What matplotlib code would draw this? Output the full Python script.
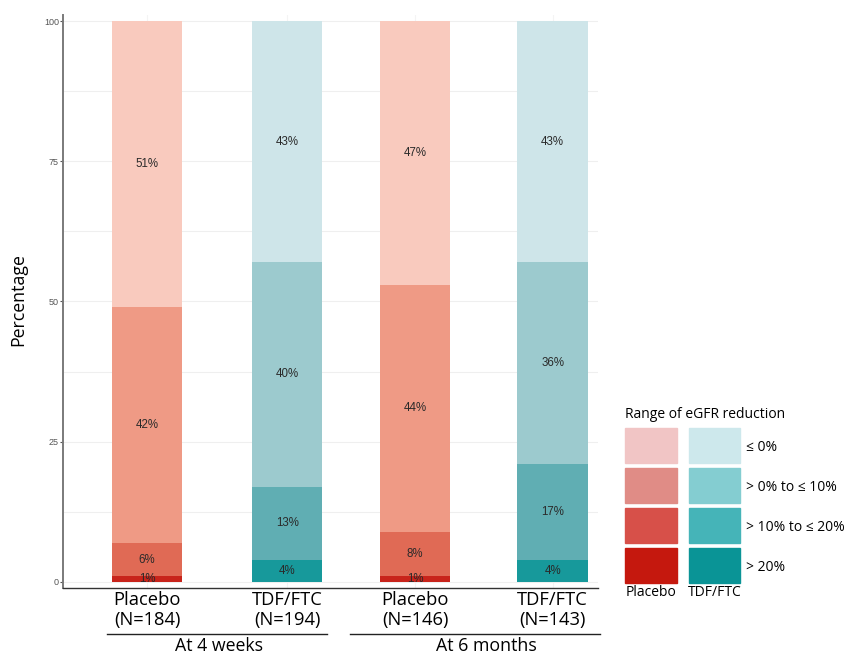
import numpy as np
import matplotlib.pyplot as plt
from matplotlib.patches import Rectangle
from matplotlib.lines import Line2D

groups = ['Placebo\n(N=184)', 'TDF/FTC\n(N=194)', 'Placebo\n(N=146)', 'TDF/FTC\n(N=143)']
arm = ['placebo', 'tdf', 'placebo', 'tdf']
timepoints = ['At 4 weeks', 'At 6 months']
ranges = ['> 20%', '> 10% to \u2264 20%', '> 0% to \u2264 10%', '\u2264 0%']
# stacked from bottom: >20, >10-20, >0-10, <=0
pct_gt20 = [1, 4, 1, 4]
pct_10_20 = [6, 13, 8, 17]
pct_0_10 = [42, 40, 44, 36]
pct_le0 = [51, 43, 47, 43]
tops = [100, 100, 100, 100]

bar_colors = {
    'placebo': ['#C8241B', '#E06A55', '#EF9A85', '#F9CABE'],
    'tdf': ['#17999B', '#60AEB3', '#9CCACE', '#CEE5E9'],
}
leg_colors = {
    'placebo': ['#C5180E', '#D75049', '#E08C86', '#F1C5C5'],
    'tdf': ['#0A9496', '#45B4B8', '#84CDD1', '#CDE8EC'],
}

W, H = 847, 657
fig = plt.figure(figsize=(W / 100, H / 100), dpi=100)
ax = fig.add_axes([63 / W, 1 - 588 / H, (598 - 63) / W, (588 - 15) / H])

x = np.array([0, 1.035, 1.98, 2.995])
width = 0.52
layers = [pct_gt20, pct_10_20, pct_0_10, pct_le0]
bottom = np.zeros(4)
for k, vals in enumerate(layers):
    vals = np.array(vals, dtype=float)
    # last layer fills to 100 (rounding)
    if k == 3:
        vals = np.array(tops) - bottom
    cols = [bar_colors[a][k] for a in arm]
    ax.bar(x, vals, width, bottom=bottom, color=cols, zorder=2)
    for i in range(4):
        ax.text(x[i], bottom[i] + vals[i] / 2, '%d%%' % layers[k][i],
                ha='center', va='center', fontsize=8.3, color='#2a2a2a',
                family='Liberation Sans', zorder=3)
    bottom = bottom + vals

ax.set_xlim(-0.62, 3.33)
ax.set_ylim(-1.07, 101.07)
ax.set_yticks([0, 25, 50, 75, 100])
ax.set_yticks([12.5, 37.5, 62.5, 87.5], minor=True)
ax.set_xticks(x)
ax.set_xticklabels([])
ax.tick_params(axis='y', labelsize=6.5, colors='#555555', length=2, width=0.8, pad=1)
ax.tick_params(axis='y', which='minor', length=0)
ax.tick_params(axis='x', length=0)
for lab in ax.get_yticklabels():
    lab.set_family('Liberation Sans')
ax.grid(True, which='both', axis='y', color='#efefef', lw=0.8, zorder=0)
ax.grid(True, axis='x', color='#f4f4f4', lw=0.8, zorder=0)
ax.set_axisbelow(True)
for s in ['top', 'right']:
    ax.spines[s].set_visible(False)
ax.spines['left'].set_color('#7a7a7a')
ax.spines['left'].set_linewidth(1.4)
ax.spines['bottom'].set_color('#333333')
ax.spines['bottom'].set_linewidth(1.0)

fig.text(18 / W, 1 - 300 / H, 'Percentage', rotation=90, ha='center', va='center',
         fontsize=12.8, family='Open Sans')

# category labels and timepoint brackets
ov = fig.add_axes([0, 0, 1, 1], facecolor='none')
ov.set_xlim(0, W)
ov.set_ylim(H, 0)
ov.axis('off')

disp = ax.transData
for i, g in enumerate(groups):
    px = disp.transform((x[i], 0))[0]
    ov.text(px, 610, g, ha='center', va='center', fontsize=13.2, family='Open Sans',
            linespacing=1.12)

for j, t in enumerate(timepoints):
    p0 = disp.transform((x[2 * j], 0))[0]
    p1 = disp.transform((x[2 * j + 1], 0))[0]
    if j == 0:
        l0, l1 = 107, 327
    else:
        l0, l1 = 350, 600
    ov.add_line(Line2D([l0, l1], [634, 634], color='#222222', lw=1.0))
    ov.text((p0 + p1) / 2 + 2, 651, t, ha='center', va='baseline', fontsize=12.8,
            family='Open Sans')

# legend
ov.text(625, 414, 'Range of eGFR reduction', ha='left', va='center', fontsize=10,
        family='Open Sans')
row_tops = [428, 468, 508, 548]
row_h = 35
leg_labels = ranges[::-1]
for r in range(4):
    k = 3 - r
    ov.add_patch(Rectangle((625, row_tops[r]), 52, row_h, color=leg_colors['placebo'][k]))
    ov.add_patch(Rectangle((689, row_tops[r]), 51, row_h, color=leg_colors['tdf'][k]))
    ov.text(746, row_tops[r] + row_h / 2 + 2, leg_labels[r], ha='left', va='center',
            fontsize=10, family='Open Sans')
ov.text(651, 593, 'Placebo', ha='center', va='center', fontsize=10, family='Open Sans')
ov.text(715, 593, 'TDF/FTC', ha='center', va='center', fontsize=10, family='Open Sans')

fig.savefig('out.png', dpi=100)
